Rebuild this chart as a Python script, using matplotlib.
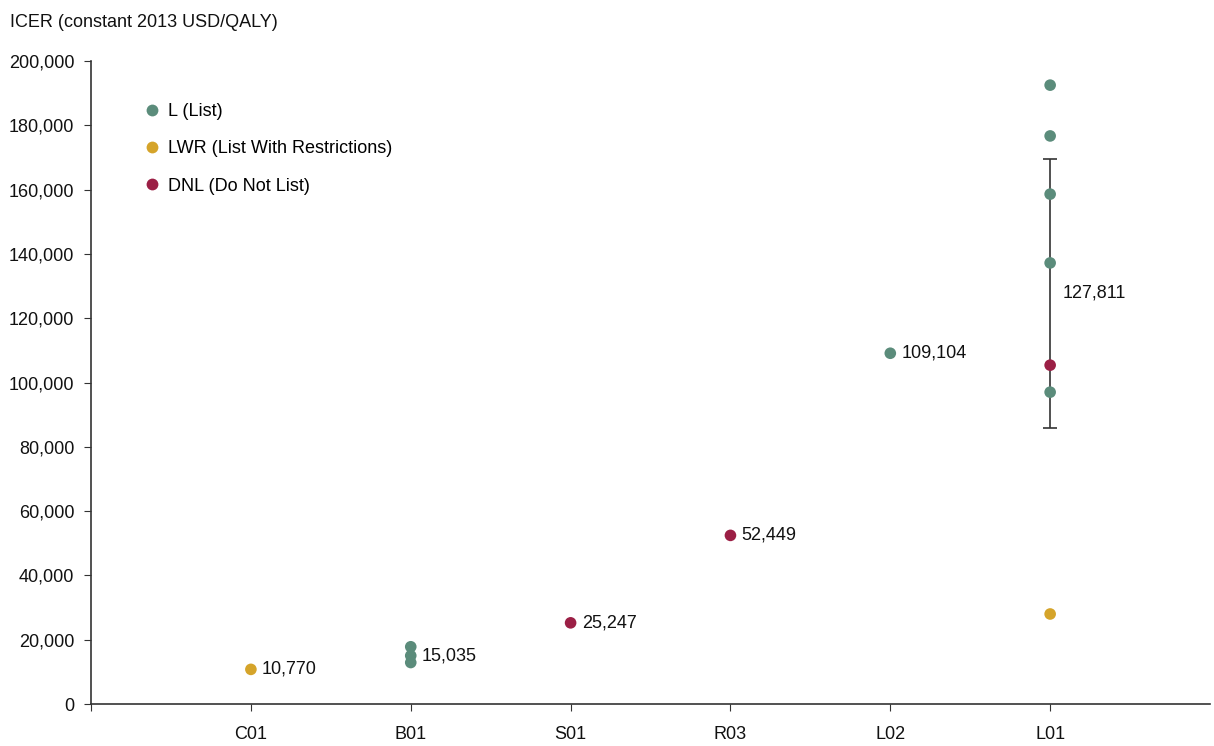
import matplotlib.pyplot as plt
from matplotlib.lines import Line2D

plt.rcParams['font.family'] = ['Liberation Sans', 'DejaVu Sans']

# Categories along the x axis
categories = ['C01', 'B01', 'S01', 'R03', 'L02', 'L01']

# Individual ICER estimates per category: (category, value, recommendation)
point_cat = ['C01', 'B01', 'B01', 'B01', 'S01', 'R03', 'L02',
             'L01', 'L01', 'L01', 'L01', 'L01', 'L01', 'L01']
point_val = [10770, 17800, 15035, 12900, 25247, 52449, 109104,
             192500, 176700, 158600, 137200, 105400, 97000, 28000]
point_rec = ['LWR', 'L', 'L', 'L', 'DNL', 'DNL', 'L',
             'L', 'L', 'L', 'L', 'DNL', 'L', 'LWR']

# Labelled values (single estimates or means)
label_cat = ['C01', 'B01', 'S01', 'R03', 'L02']
label_val = [10770, 15035, 25247, 52449, 109104]

# L01 mean and interval
l01_mean = 127811
l01_low = 85800
l01_high = 169500

colors = {'L': '#5b8c7b', 'LWR': '#d5a42a', 'DNL': '#9b1f45'}
legend_names = {'L': 'L (List)', 'LWR': 'LWR (List With Restrictions)',
                'DNL': 'DNL (Do Not List)'}

xpos = {c: i + 1 for i, c in enumerate(categories)}
fs = 13

fig = plt.figure(figsize=(12.14, 7.46), dpi=100)
ax = fig.add_axes([0.075, 0.0563, 0.9217, 0.8619])

# interval bar for L01, drawn behind the points
ax.errorbar([xpos['L01']], [l01_mean],
            yerr=[[l01_mean - l01_low], [l01_high - l01_mean]],
            fmt='none', ecolor='#333333', elinewidth=1.2, capsize=5,
            capthick=1.2, zorder=2)
ax.text(xpos['L01'] + 0.075, l01_mean, '{:,}'.format(l01_mean),
        fontsize=fs, va='center', ha='left', color='#111111')

for c, v, r in zip(point_cat, point_val, point_rec):
    ax.scatter(xpos[c], v, s=70, color=colors[r], edgecolors='none', zorder=3)

for c, v in zip(label_cat, label_val):
    ax.text(xpos[c] + 0.07, v, '{:,}'.format(v), fontsize=fs,
            va='center', ha='left', color='#111111')

ax.set_xlim(0, 7)
ax.set_ylim(0, 200000)
ax.set_xticks([0] + [xpos[c] for c in categories])
ax.set_xticklabels([''] + categories)
ax.set_yticks(range(0, 200001, 20000))
ax.set_yticklabels(['{:,}'.format(v) for v in range(0, 200001, 20000)])
ax.tick_params(axis='both', labelsize=fs, colors='#333333', labelcolor='#111111',
               length=5, width=0.8)
ax.tick_params(axis='x', pad=11)
ax.tick_params(axis='y', pad=7)

for side in ['top', 'right']:
    ax.spines[side].set_visible(False)
for side in ['left', 'bottom']:
    ax.spines[side].set_color('#333333')
    ax.spines[side].set_linewidth(1.2)

fig.text(0.008, 0.97, 'ICER (constant 2013 USD/QALY)', fontsize=fs,
         ha='left', va='center', color='#111111')

handles = [Line2D([], [], marker='o', linestyle='none', markersize=8.5,
                  markerfacecolor=colors[k], markeredgecolor='none')
           for k in ['L', 'LWR', 'DNL']]
ax.legend(handles, [legend_names[k] for k in ['L', 'LWR', 'DNL']],
          loc='upper left', bbox_to_anchor=(0.03, 0.96), frameon=False,
          fontsize=fs, labelspacing=1.13, handletextpad=0.3, handlelength=1.2)

fig.savefig('out.png', dpi=100)
